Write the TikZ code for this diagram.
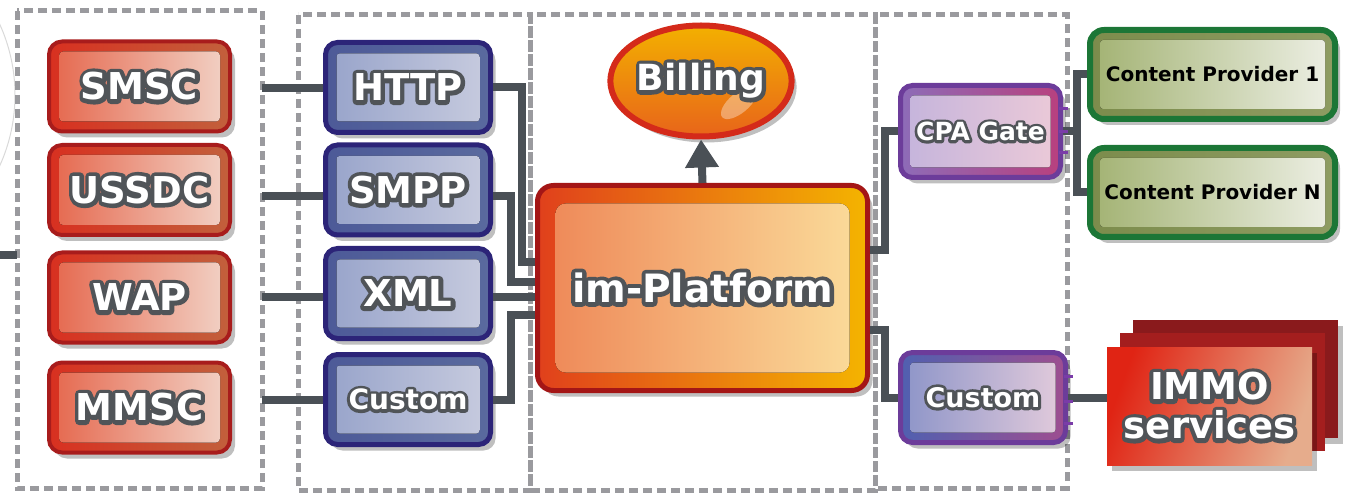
\documentclass[tikz,border=0pt]{standalone}
\usepackage{fontspec}
\setmainfont{DejaVu Sans}
\newfontfamily\olfont{DejaVu Sans}[RawFeature={embolden=22}]
\definecolor{olc}{HTML}{505458}
\newcommand\ol[1]{\rlap{\special{pdf:literal direct q 1 j 1 J}{\olfont\bfseries\color{olc}#1}\special{pdf:literal direct Q}}{\bfseries #1}}
\usetikzlibrary{shadows,arrows.meta,calc,shapes.geometric}
\definecolor{connc}{HTML}{4A5056}
\definecolor{dashc}{HTML}{9A9A9E}
\definecolor{rbd}{HTML}{A81C1C}
\definecolor{rbl}{HTML}{D83020}
\definecolor{rbr}{HTML}{C2603C}
\definecolor{ril}{HTML}{E5664C}
\definecolor{rir}{HTML}{F2D4C8}
\definecolor{bbd}{HTML}{2C2478}
\definecolor{bbl}{HTML}{4D5A98}
\definecolor{bbr}{HTML}{5A6A9E}
\definecolor{bil}{HTML}{97A3CA}
\definecolor{bir}{HTML}{C8CCDF}
\definecolor{pbd}{HTML}{A41616}
\definecolor{pbl}{HTML}{E0401C}
\definecolor{pbr}{HTML}{F4B400}
\definecolor{pil}{HTML}{EE8656}
\definecolor{pir}{HTML}{FBDE9C}
\definecolor{gbd}{HTML}{D42A1A}
\definecolor{gtop}{HTML}{F3B000}
\definecolor{gbot}{HTML}{E8641A}
\definecolor{cbd}{HTML}{6C3C9A}
\definecolor{cbl}{HTML}{8D6CB8}
\definecolor{cbr}{HTML}{B8407E}
\definecolor{cil}{HTML}{C4B4DC}
\definecolor{cir}{HTML}{ECCAD8}
\definecolor{ubl}{HTML}{5060B0}
\definecolor{ubr}{HTML}{9E4E90}
\definecolor{uil}{HTML}{8C94C8}
\definecolor{uir}{HTML}{E4CCDC}
\definecolor{ebd}{HTML}{1C7636}
\definecolor{ebl}{HTML}{7C8C4C}
\definecolor{ebr}{HTML}{8E9C62}
\definecolor{eil}{HTML}{A2B272}
\definecolor{eir}{HTML}{EEF0E6}
\definecolor{iback}{HTML}{8A1A1C}
\definecolor{imid}{HTML}{A41E1E}
\definecolor{ifl}{HTML}{E02414}
\definecolor{ifr}{HTML}{E6AC8C}
\definecolor{pinc}{HTML}{7A3CA8}
\begin{document}
\begin{tikzpicture}[x=1pt,y=-1pt,
  conn/.style={draw=connc, line width=8pt},
  dashbox/.style={draw=dashc, line width=5pt, dash pattern=on 9pt off 5pt},
  shad/.style={drop shadow={shadow xshift=5pt, shadow yshift=-6pt, opacity=0.25, fill=black}},
  lbl/.style={text=white, font=\fontsize{#1}{#1}\selectfont},
  inner/.style n args={4}{path picture={\fill[rounded corners=#2, left color=#3, right color=#4]
      ([shift={(#1,-#1)}]path picture bounding box.north west) rectangle
      ([shift={(-#1,#1)}]path picture bounding box.south east);}},
  redbox/.style={rectangle, rounded corners=13pt, draw=rbd, line width=4pt,
      left color=rbl, right color=rbr, minimum width=181pt, minimum height=90pt,
      inner sep=0pt, shad, inner={10pt}{4pt}{ril}{rir}, lbl=37},
  bluebox/.style={rectangle, rounded corners=12pt, draw=bbd, line width=5pt,
      left color=bbl, right color=bbr, minimum width=165pt, minimum height=90pt,
      inner sep=0pt, shad, inner={11pt}{3pt}{bil}{bir}, lbl=37},
  platbox/.style={rectangle, rounded corners=16pt, draw=pbd, line width=5pt,
      left color=pbl, right color=pbr, minimum width=330pt, minimum height=205pt,
      inner sep=0pt, shad, inner={18pt}{10pt}{pil}{pir}, lbl=39},
  billbox/.style={ellipse, draw=gbd, line width=6pt, top color=gtop, bottom color=gbot,
      minimum width=157pt, minimum height=111pt, inner sep=0pt, shad, lbl=36,
      path picture={\fill[white, opacity=0.35]
        ([shift={(38pt,-22pt)}]path picture bounding box.center)
        ellipse [x radius=22pt, y radius=10pt, rotate=40];}},
  cpabox/.style={rectangle, rounded corners=12pt, draw=cbd, line width=5pt,
      left color=cbl, right color=cbr, minimum width=160pt, minimum height=92pt,
      inner sep=0pt, shad, inner={10pt}{3pt}{cil}{cir}, lbl=25},
  custbox/.style={rectangle, rounded corners=12pt, draw=cbd, line width=5pt,
      left color=ubl, right color=ubr, minimum width=165pt, minimum height=90pt,
      inner sep=0pt, shad, inner={10pt}{3pt}{uil}{uir}, lbl=27},
  cpbox/.style={rectangle, rounded corners=14pt, draw=ebd, line width=6pt,
      left color=ebl, right color=ebr, minimum width=245pt, minimum height=89pt,
      inner sep=0pt, shad, inner={10pt}{3pt}{eil}{eir},
      text=black, font=\bfseries\fontsize{20}{20}\selectfont},
  pin/.style={draw=pinc, line width=3pt},
  layer/.style={rectangle, minimum width=205pt, minimum height=118pt, inner sep=0pt}
]
\useasboundingbox (0,0) rectangle (1351,494);
% faint arc at the left edge
\begin{scope}
  \clip (0,0) rectangle (40,494);
  \draw[black!15, line width=1pt] (-156,95) circle[radius=171];
\end{scope}
% dashed groups
\draw[dashbox] (17,11) rectangle (262,488);
\draw[dashbox] (298,15) rectangle (530,490);
\draw[dashbox] (530,15) rectangle (875,490);
\draw[dashbox] (875,15) rectangle (1067,488);

% left column
\node[redbox] (smsc)  at (139.5,86.5) {\ol{SMSC}};
\node[redbox] (ussdc) at (139.5,190) {\ol{USSDC}};
\node[redbox] (wap)   at (139.5,297.5) {\ol{WAP}};
\node[redbox] (mmsc)  at (139.5,407.5) {\ol{MMSC}};

% protocol column
\node[bluebox] (http) at (408,87.5) {\ol{HTTP}};
\node[bluebox] (smpp) at (408,190) {\ol{SMPP}};
\node[bluebox] (xml)  at (408,293.5) {\ol{XML}};
\node[bluebox, lbl=28] (cust) at (408,399.5) {\ol{Custom}};

% platform and billing
\node[platbox] (plat) at (702.5,288) {\ol{im-Platform}};
\node[billbox] (bill) at (701,81) {\ol{Billing}};

% right column
\node[cpabox] (cpa) at (980.5,131.5) {\ol{CPA Gate}};
\node[custbox] (cust2) at (983,397.5) {\ol{Custom}};
\node[cpbox] (cp1) at (1212.5,74.5) {Content Provider 1};
\node[cpbox] (cpn) at (1212.5,192.5) {Content Provider N};

% IMMO services stack
\node[layer, fill=iback, shad] (immob) at (1235,378.5) {};
\node[layer, fill=imid] (immom) at (1222.5,392) {};
\node[layer, left color=ifl, right color=ifr, shading angle=70, shad,
      lbl=37, align=center] (immo) at (1209.5,406)
      {\ol{IMMO}\\[2pt]\ol{services}};

% connectors: sources to protocols
\coordinate (s1) at (262,88);
\coordinate (s2) at (262,196);
\coordinate (s3) at (262,297);
\coordinate (s4) at (262,400);
\draw[conn] (s1) -- (s1 -| http.west);
\draw[conn] (s2) -- (s2 -| smpp.west);
\draw[conn] (s3) -- (s3 -| xml.west);
\draw[conn] (s4) -- (s4 -| cust.west);
\coordinate (ls) at (0,255);
\coordinate (le) at (17,255);
\draw[conn] (ls) -- (le);

% protocols to platform
\coordinate (j1) at (522,262);
\coordinate (j2) at (511,282);
\coordinate (j4) at (511,315);
\coordinate (x3) at (493,297);
\draw[conn] (http.east) -| (j1) -- (j1 -| plat.west);
\draw[conn] ([yshift=-6pt]smpp.east) -| (j2) -- (j2 -| plat.west);
\draw[conn] (x3) -- (x3 -| plat.west);
\draw[conn] (cust.east) -| (j4) -- (j4 -| plat.west);

% platform to billing
\draw[conn, line width=8pt, -{Triangle[width=32pt,length=28pt]}] (plat.north) -- (bill.south);

% platform to right column
\coordinate (r1) at (885,250);
\coordinate (r2) at (885,330);
\draw[conn] (plat.east |- r1) -- (r1) |- (cpa.west);
\draw[conn] (plat.east |- r2) -- (r2) |- (cust2.west);

% CPA gate to providers
\coordinate (v) at (1077,131.5);
\draw[conn] (cpa.east) -- (v);
\draw[conn] (cp1.west) -| (v) |- (cpn.west);
\draw[conn] (cust2.east) -- (cust2.east -| immo.west);

% connector pins
\foreach \dy in {-23,0,21} {
  \draw[pin] ([yshift=-\dy pt, xshift=-4pt]cpa.east) -- ++(9,0);
}
\foreach \dy in {-21,4,26} {
  \draw[pin] ([yshift=-\dy pt, xshift=-4pt]cust2.east) -- ++(9,0);
}
\end{tikzpicture}
\end{document}
